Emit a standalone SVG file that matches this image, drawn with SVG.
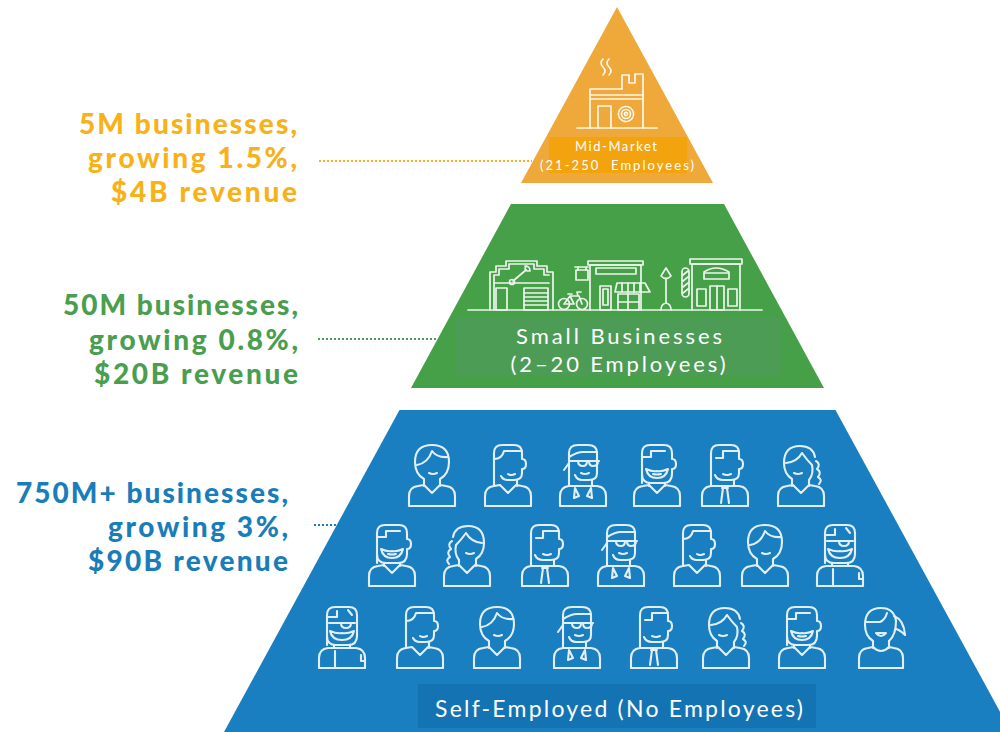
<svg xmlns="http://www.w3.org/2000/svg" xmlns:xlink="http://www.w3.org/1999/xlink" width="1000" height="732" viewBox="0 0 1000 732">
  <style>
    .stat { font-family: Lato, "Open Sans", "Liberation Sans", sans-serif; font-weight: 900; font-size: 28px; text-anchor: end; }
    .tier-text { font-family: Lato, "Open Sans", "Liberation Sans", sans-serif; fill: #ffffff; text-anchor: middle; }
    .ic { fill: none; stroke: #ffffff; stroke-width: 2.1; stroke-linecap: round; stroke-linejoin: round; opacity: 0.88; }
    .sk { fill: none; stroke: #ffffff; stroke-width: 1.7; stroke-linecap: round; stroke-linejoin: round; opacity: 0.9; }
    .dots { fill: none; stroke-width: 2.2; stroke-dasharray: 2 2; }
  </style>
  <defs>
    <!-- shared person outlines, 50 x 64 box -->
    <path id="body-v" d="M2 63V53Q2 44 11 43L17 42L25 50L33 42L39 43Q48 44 48 53V63Z"/>
    <path id="body-flat" d="M2 63V53Q2 44 11 43H39Q48 44 48 53V63Z"/>

    <symbol id="p-bob" viewBox="0 0 50 64">
      <g class="ic">
        <use xlink:href="#body-v"/>
        <path d="M17 43V36Q8 31 8 19Q8 2 25 2Q42 2 42 19Q42 31 33 36V43"/>
        <path d="M10 22Q21 20 25 8Q30 15 41 14"/>
        <path d="M22 30Q26 32 30 30"/>
      </g>
    </symbol>

    <symbol id="p-man" viewBox="0 0 50 64">
      <g class="ic">
        <use xlink:href="#body-v"/>
        <path d="M11 43V10Q11 2 19 2H31Q39 2 39 10V16Q43 16 43 21Q43 26 39 26V30Q39 37 31 37H25Q20 37 18 33"/>
        <path d="M34 37V43"/>
        <path d="M11 16Q19 16 21 8H39"/>
        <path d="M25 31Q28 33 32 31"/>
      </g>
    </symbol>

    <symbol id="p-glasses" viewBox="0 0 50 64">
      <g class="ic">
        <use xlink:href="#body-flat"/>
        <path d="M11 43V10Q11 2 20 2H30Q39 2 39 10V30Q39 37 31 37H24Q19 37 17 32"/>
        <path d="M34 37V43"/>
        <path d="M11 14Q19 9 25 9H39"/>
        <path d="M11 18H41M20 18Q20 23 25 23Q29 23 29 18M31 18Q31 23 35 23Q40 23 40 18"/>
        <path d="M11 20L6 27"/>
        <path d="M23 30Q27 32 31 30"/>
        <path d="M17 45L21 53L16 55ZM33 45L29 53L34 55Z"/>
      </g>
    </symbol>

    <symbol id="p-beard" viewBox="0 0 50 64">
      <g class="ic">
        <use xlink:href="#body-v"/>
        <path d="M10 40V10Q10 2 18 2H32Q40 2 40 10V16Q44 16 44 21Q44 26 40 26V31Q40 40 31 40H19Q10 40 10 31"/>
        <path d="M17 40V43M33 40V43"/>
        <path d="M10 14H19V8H33"/>
        <path d="M14 26Q16 35 25 35Q34 35 36 26Q30 29 25 28Q20 29 14 26"/>
        <path d="M21 31Q25 32 29 31"/>
      </g>
    </symbol>

    <symbol id="p-tie" viewBox="0 0 50 64">
      <g class="ic">
        <use xlink:href="#body-flat"/>
        <path d="M11 43V10Q11 2 19 2H31Q39 2 39 10V16Q43 16 43 21Q43 26 39 26V30Q39 37 31 37H23Q17 37 15 32"/>
        <path d="M34 37V43"/>
        <path d="M16 15H23V8H39"/>
        <path d="M23 31Q27 33 31 31"/>
        <path d="M22 45H28M23 45L21 60M27 45L29 60"/>
      </g>
    </symbol>

    <symbol id="p-braid" viewBox="0 0 50 64">
      <g class="ic">
        <use xlink:href="#body-v"/>
        <path d="M16 43V36Q8 31 8 20Q8 3 24 3Q37 3 39 14"/>
        <path d="M33 37V43"/>
        <path d="M10 20Q21 19 26 10Q31 17 36 22Q38 31 33 37"/>
        <path d="M40 18Q45 21 41 26M41 26Q46 29 42 34M42 34Q47 37 43 41"/>
        <path d="M18 30Q22 32 26 30"/>
      </g>
    </symbol>

    <symbol id="p-old" viewBox="0 0 50 64">
      <g class="ic">
        <use xlink:href="#body-flat"/>
        <path d="M10 40V10Q10 2 18 2H32Q40 2 40 10V31Q40 40 31 40H19Q10 40 10 31"/>
        <path d="M17 40V43M33 40V43"/>
        <path d="M10 12H20V6M31 5L35 10"/>
        <path d="M12 18H38M24 18Q24 23 29 23Q34 23 34 18"/>
        <path d="M13 26Q15 35 25 35Q35 35 37 26Q30 29 25 28Q20 29 13 26"/>
        <path d="M18 46V63M44 50V56H48"/>
      </g>
    </symbol>

    <symbol id="p-pony" viewBox="0 0 50 64">
      <g class="ic">
        <path d="M3 63V53Q3 44 12 43L17 42Q25 50 33 42L38 43Q47 44 47 53V63Z"/>
        <path d="M17 43V36Q9 31 9 20Q9 3 25 3Q38 3 40 16"/>
        <path d="M33 36V43"/>
        <path d="M10 17H24Q29 15 31 8M40 16Q40 30 33 36"/>
        <path d="M38 11Q48 15 49 30Q44 25 40 24"/>
        <path d="M20 28Q25 34 30 28Z"/>
      </g>
    </symbol>
  </defs>

  <rect width="1000" height="732" fill="#ffffff"/>

  <!-- Mid-market tier -->
  <g id="tier-mid">
    <polygon points="617,7 713,183 521,183" fill="#EFA93A"/>
    <g class="sk" stroke-width="1.8">
      <path d="M577 128H657"/>
      <path d="M590 128V89H622V75H629V83H635V74H643V128"/>
      <path d="M590 95H643M590 99H643"/>
      <path d="M598 128V106H611V128"/>
      <circle cx="626" cy="114" r="7.5" stroke-dasharray="2.2 1.5"/>
      <circle cx="626" cy="114" r="4.5"/>
      <circle cx="626" cy="114" r="1.6"/>
      <path d="M603 59Q599 63 603 67Q607 71 603 75M609 59Q605 63 609 67Q613 71 609 75"/>
    </g>
    <rect x="549" y="137" width="138" height="36" fill="#F2A30E"/>
    <text class="tier-text" font-size="13" x="616" y="151" textLength="82" lengthAdjust="spacing">Mid-Market</text>
    <text class="tier-text" font-size="13" x="617" y="170" xml:space="preserve" textLength="154" lengthAdjust="spacing">(21-250  Employees)</text>
  </g>

  <!-- Small business tier -->
  <g id="tier-small">
    <polygon points="511,204 724,204 824,388 411,388" fill="#46A047"/>
    <g class="sk">
      <path d="M468 310H762"/>
      <!-- garage -->
      <path d="M490 310V272H496V266H506V261H537V266H547V272H553V310"/>
      <path d="M494 310V275H499V269H509V264H534V269H544V275H549"/>
      <path d="M494 283H549"/>
      <rect x="496" y="288" width="11" height="22"/>
      <rect x="524" y="288" width="24" height="22"/>
      <path d="M524 293H548M524 297H548M524 301H548M524 305H548"/>
      <path d="M513 281L526 270"/>
      <circle cx="512" cy="282" r="2.5"/>
      <path d="M525 266Q530 266 530 271L527 271L525 269L526 266"/>
      <!-- bicycle -->
      <circle cx="564" cy="304" r="5.5"/>
      <circle cx="582" cy="304" r="5.5"/>
      <path d="M564 304L570 296H579L582 304M570 296L574 304H564M578 296L577 292H581M568 294H572"/>
      <!-- hanging sign -->
      <path d="M588 267H575M578 267V270M586 267V270"/>
      <rect x="576" y="270" width="12" height="10"/>
      <!-- shop -->
      <path d="M590 310V265H641V310"/>
      <rect x="588" y="261" width="55" height="4"/>
      <rect x="596" y="268" width="40" height="6"/>
      <rect x="600" y="286" width="11" height="24"/>
      <rect x="603" y="289" width="5" height="16"/>
      <path d="M617 283H645L650 292H615Z"/>
      <path d="M622 283V292M628 283V292M634 283V292M640 283V292"/>
      <rect x="618" y="294" width="21" height="16"/>
      <path d="M628 294V310M618 302H639"/>
      <!-- lamp post -->
      <path d="M666 303V279"/>
      <path d="M661 276L666 268L671 276Q666 281 661 276Z"/>
      <path d="M661 310Q661 304 666 303Q671 304 671 310"/>
      <!-- barber pole -->
      <rect x="682" y="268" width="7" height="29" rx="3.5"/>
      <path d="M683 275L688 271M683 281L688 277M683 287L688 283M683 293L688 289"/>
      <!-- third shop -->
      <path d="M692 310V264H740V310"/>
      <rect x="690" y="259" width="52" height="5"/>
      <path d="M704 272Q716 264 729 272"/>
      <rect x="704" y="273" width="25" height="6"/>
      <rect x="710" y="286" width="14" height="24"/>
      <path d="M717 286V310"/>
      <rect x="697" y="289" width="9" height="17"/>
      <rect x="728" y="289" width="9" height="17"/>
    </g>
    <rect x="456" y="318" width="326" height="57" fill="#4C9C56"/>
    <text class="tier-text" font-size="22" x="619" y="344" textLength="206" lengthAdjust="spacing">Small Businesses</text>
    <text class="tier-text" font-size="22" x="618" y="372" textLength="215" lengthAdjust="spacing">(2–20 Employees)</text>
  </g>

  <!-- Self-employed tier -->
  <g id="tier-self">
    <polygon points="399.5,410 835.5,410 1011,732 224,732" fill="#1A7FC0"/>
    <g id="people-row1">
      <use xlink:href="#p-bob" x="407" y="443" width="50" height="64"/>
      <use xlink:href="#p-man" x="483" y="443" width="50" height="64"/>
      <use xlink:href="#p-glasses" x="558" y="443" width="50" height="64"/>
      <use xlink:href="#p-beard" x="632" y="443" width="50" height="64"/>
      <use xlink:href="#p-tie" x="700" y="443" width="50" height="64"/>
      <use xlink:href="#p-braid" x="776" y="443" width="50" height="64"/>
    </g>
    <g id="people-row2">
      <use xlink:href="#p-beard" x="367" y="523" width="50" height="64"/>
      <use xlink:href="#p-braid" transform="translate(934 0) scale(-1 1)" x="442" y="523" width="50" height="64"/>
      <use xlink:href="#p-tie" x="520" y="523" width="50" height="64"/>
      <use xlink:href="#p-glasses" x="596" y="523" width="50" height="64"/>
      <use xlink:href="#p-man" x="672" y="523" width="50" height="64"/>
      <use xlink:href="#p-bob" x="740" y="523" width="50" height="64"/>
      <use xlink:href="#p-old" x="815" y="523" width="50" height="64"/>
    </g>
    <g id="people-row3">
      <use xlink:href="#p-old" x="317" y="605" width="50" height="64"/>
      <use xlink:href="#p-man" x="395" y="605" width="50" height="64"/>
      <use xlink:href="#p-bob" x="472" y="605" width="50" height="64"/>
      <use xlink:href="#p-glasses" x="552" y="605" width="50" height="64"/>
      <use xlink:href="#p-tie" x="629" y="605" width="50" height="64"/>
      <use xlink:href="#p-braid" x="701" y="605" width="50" height="64"/>
      <use xlink:href="#p-beard" x="777" y="605" width="50" height="64"/>
      <use xlink:href="#p-pony" x="856" y="605" width="50" height="64"/>
    </g>
    <rect x="418" y="684" width="398" height="44" fill="#1373B3"/>
    <text class="tier-text" font-size="23" x="619" y="717" textLength="368" lengthAdjust="spacing">Self-Employed (No Employees)</text>
  </g>

  <!-- Figures per tier -->
  <g id="label-mid" class="stat" fill="#F7B119">
    <text x="297" y="134" textLength="218" lengthAdjust="spacing">5M businesses,</text>
    <text x="297" y="168" textLength="209" lengthAdjust="spacing">growing 1.5%,</text>
    <text x="297" y="202" textLength="186" lengthAdjust="spacing">$4B revenue</text>
  </g>
  <g id="label-small" class="stat" fill="#4A9E4F">
    <text x="298" y="315" textLength="235" lengthAdjust="spacing">50M businesses,</text>
    <text x="298" y="350" textLength="209" lengthAdjust="spacing">growing 0.8%,</text>
    <text x="298" y="384" textLength="204" lengthAdjust="spacing">$20B revenue</text>
  </g>
  <g id="label-self" class="stat" fill="#1A7DB9">
    <text x="288" y="503" textLength="272" lengthAdjust="spacing">750M+ businesses,</text>
    <text x="288" y="537" textLength="180" lengthAdjust="spacing">growing 3%,</text>
    <text x="288" y="571" textLength="200" lengthAdjust="spacing">$90B revenue</text>
  </g>

  <!-- Dotted leaders -->
  <g id="connectors">
    <path class="dots" stroke="#F7B119" d="M319 161H532"/>
    <path class="dots" stroke="#4A9E4F" d="M318 339H437"/>
    <path class="dots" stroke="#1A7DB9" d="M314 525H340"/>
  </g>
</svg>
